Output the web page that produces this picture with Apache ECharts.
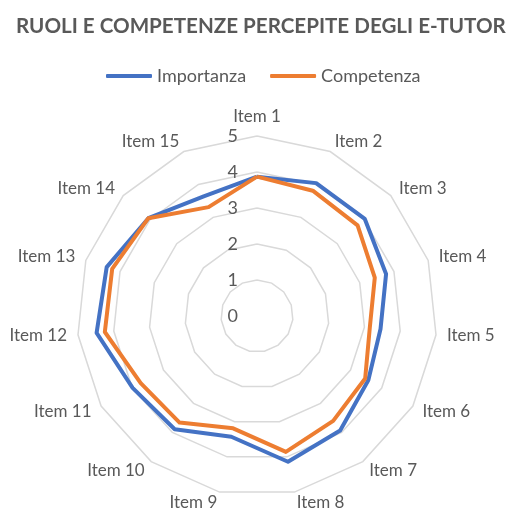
<!DOCTYPE html>
<html><head><meta charset="utf-8">
<script src="https://cdn.jsdelivr.net/npm/echarts@6/dist/echarts.min.js"></script>
<style>html,body{margin:0;padding:0;background:#fff}#c{width:506px;height:509px}</style>
</head><body><div id="c"></div>
<script>
const categories = ['Item 1','Item 2','Item 3','Item 4','Item 5','Item 6','Item 7','Item 8','Item 9','Item 10','Item 11','Item 12','Item 13','Item 14','Item 15'];
const importanza = [3.87, 4.04, 4.03, 3.77, 3.45, 3.57, 3.93, 4.14, 3.43, 3.89, 3.99, 4.48, 4.39, 4.06, 3.64];
const competenza = [3.87, 3.81, 3.76, 3.44, 3.15, 3.47, 3.60, 3.86, 3.19, 3.66, 3.73, 4.25, 4.23, 4.06, 3.31];
const seriesNames = ['Importanza', 'Competenza'];
const axisMax = 5;
const axisSplits = 5;

// ECharts lays radar indicators counter-clockwise; reorder so items run clockwise.
const order = [0].concat(categories.map((_, i) => i).slice(1).reverse());
const reorder = arr => order.map(i => arr[i]);

const txt = '#595959';
const font = 'Lato';
const chart = echarts.init(document.getElementById('c'), null, {renderer: 'canvas'});
chart.setOption({
  animation: false,
  title: {
    text: 'RUOLI E COMPETENZE PERCEPITE DEGLI E-TUTOR',
    left: 11, top: 11,
    textStyle: {color: txt, fontFamily: font, fontWeight: 'bold', fontSize: 20.6}
  },
  legend: {
    data: seriesNames,
    top: 62, left: 101,
    icon: 'roundRect', itemWidth: 46, itemHeight: 4, itemGap: 24,
    textStyle: {color: txt, fontFamily: font, fontSize: 18}
  },
  radar: {
    center: [257, 316],
    radius: 180,
    startAngle: 90,
    shape: 'polygon',
    splitNumber: axisSplits,
    nameGap: 11,
    axisName: {color: txt, fontFamily: font, fontSize: 17},
    axisLine: {show: false},
    axisTick: {show: false},
    axisLabel: {show: false, color: txt, fontFamily: font, fontSize: 18, margin: 19},
    splitLine: {lineStyle: {color: '#d9d9d9', width: 1.5}},
    splitArea: {show: false},
    indicator: reorder(categories).map((name, i) => i === 0
      ? {name, min: 0, max: axisMax, axisLabel: {show: true}}
      : {name, min: 0, max: axisMax})
  },
  series: [{
    type: 'radar',
    symbol: 'none',
    data: [
      {name: seriesNames[0], value: reorder(importanza),
       lineStyle: {color: '#4472C4', width: 4}, itemStyle: {color: '#4472C4'}},
      {name: seriesNames[1], value: reorder(competenza),
       lineStyle: {color: '#ED7D31', width: 4}, itemStyle: {color: '#ED7D31'}}
    ]
  }]
});
</script></body></html>
